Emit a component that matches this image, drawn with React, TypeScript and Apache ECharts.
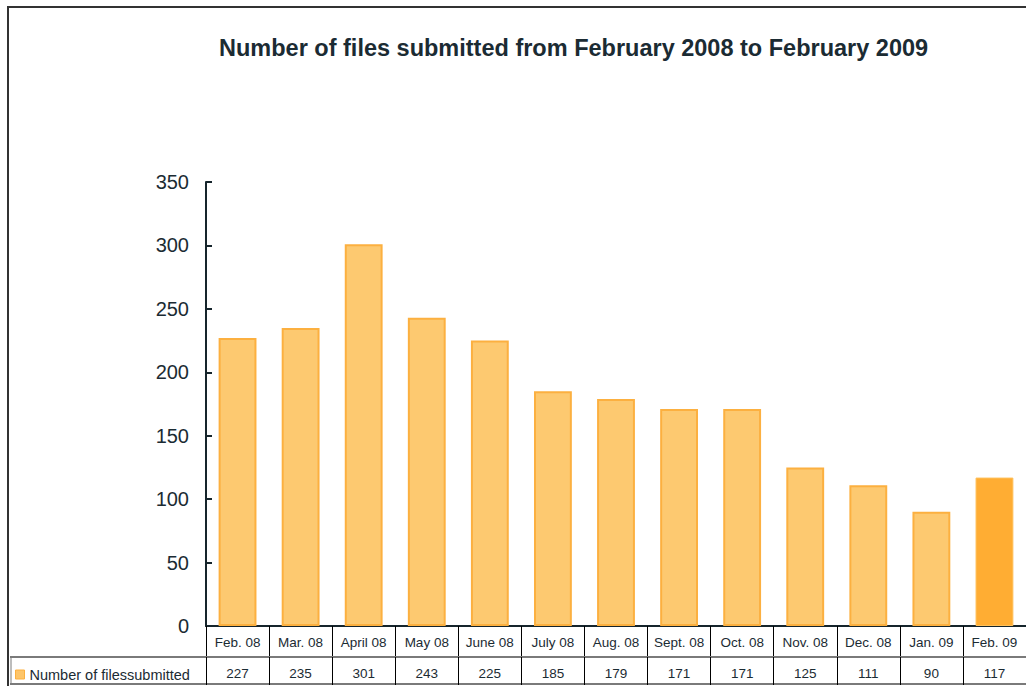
import React, { useEffect, useRef } from "react";
import * as echarts from "echarts";

const categories = ["Feb. 08", "Mar. 08", "April 08", "May 08", "June 08", "July 08", "Aug. 08", "Sept. 08", "Oct. 08", "Nov. 08", "Dec. 08", "Jan. 09", "Feb. 09"];
const values = [227, 235, 301, 243, 225, 185, 179, 171, 171, 125, 111, 90, 117];
const seriesName = "Number of filessubmitted";
const highlightIndex = 12;

const FONT = "'Liberation Sans', Arial, sans-serif";
const TEXT = "#1b2b33";

export default function App() {
  const ref = useRef<HTMLDivElement>(null);
  useEffect(() => {
    if (!ref.current) return;
    const chart = echarts.init(ref.current, undefined, { renderer: "svg" });
    chart.setOption({
      animation: false,
      backgroundColor: "#ffffff",
      textStyle: { fontFamily: FONT },
      title: {
        text: "Number of files submitted from February 2008 to February 2009",
        left: 214,
        top: 31,
        textStyle: { fontFamily: FONT, fontSize: 23.5, fontWeight: "bold", color: TEXT },
      },
      legend: {
        left: 10,
        top: 662,
        itemWidth: 9,
        itemHeight: 9,
        itemGap: 4,
        icon: "rect",
        data: [{ name: seriesName, itemStyle: { color: "#FDC56A", borderColor: "#FCB040", borderWidth: 1 } }],
        textStyle: { fontFamily: FONT, fontSize: 14.5, color: TEXT, padding: [0, 0, 0, 0] },
      },
      grid: { left: 206, top: 182, width: 823, height: 444 },
      xAxis: [
        {
          type: "category",
          data: categories,
          position: "bottom",
          axisLine: { show: true, lineStyle: { color: "#16252c", width: 2 } },
          axisTick: { show: true, interval: 0, length: 30, lineStyle: { color: "#000", width: 1 } },
          axisLabel: { interval: 0, margin: 9, fontSize: 13.5, color: TEXT, fontFamily: FONT },
        },
        {
          type: "category",
          data: categories,
          position: "bottom",
          offset: 31,
          axisLine: { show: true, lineStyle: { color: "#7a7a7a", width: 2 } },
          axisTick: { show: true, interval: 0, length: 28, lineStyle: { color: "#000", width: 1 } },
          axisLabel: {
            interval: 0,
            margin: 9,
            fontSize: 13.5,
            color: TEXT,
            fontFamily: FONT,
            formatter: (_v: string, idx: number) => String(values[idx]),
          },
        },
      ],
      yAxis: {
        type: "value",
        min: 0,
        max: 350,
        interval: 50,
        axisLine: { show: true, lineStyle: { color: "#16252c", width: 2 } },
        axisTick: { show: true, inside: true, length: 6, lineStyle: { color: "#16252c", width: 2 } },
        axisLabel: { margin: 17, fontSize: 20, color: TEXT, fontFamily: FONT },
        splitLine: { show: false },
      },
      series: [
        {
          name: seriesName,
          type: "bar",
          barWidth: "60%",
          data: values.map((v, i) =>
            i === highlightIndex
              ? { value: v, itemStyle: { color: "#FFAD33", borderColor: "#FFC05A", borderWidth: 1 } }
              : v
          ),
          itemStyle: { color: "#FDC970", borderColor: "#FCB040", borderWidth: 2 },
        },
      ],
      graphic: [
        {
          type: "rect",
          shape: { x: 8, y: 7, width: 1040, height: 700 },
          style: { fill: "none", stroke: "#333333", lineWidth: 2 },
          silent: true,
        },
        {
          type: "line",
          shape: { x1: 10, y1: 657, x2: 206, y2: 657 },
          style: { stroke: "#7a7a7a", lineWidth: 2 },
        },
        {
          type: "line",
          shape: { x1: 10, y1: 684, x2: 1030, y2: 684 },
          style: { stroke: "#7a7a7a", lineWidth: 2 },
        },
        {
          type: "line",
          shape: { x1: 11, y1: 657, x2: 11, y2: 684 },
          style: { stroke: "#7a7a7a", lineWidth: 1 },
        },
      ],
    });
    return () => chart.dispose();
  }, []);
  return <div ref={ref} style={{ position: "fixed", left: 0, top: 0, width: 1026, height: 686 }} />;
}
